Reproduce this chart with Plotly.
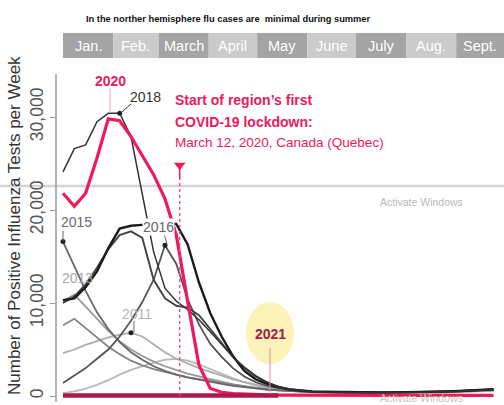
import plotly.graph_objects as go

# ---------------- data (weekly, week 0 = first week of January) ----------------
weeks = list(range(39))
s2011 = [4600, 5000, 5500, 5900, 6300, 6600, 6800, 6400, 5500, 4700, 4000, 3500, 3000, 2600, 2200, 1800, 1500, 1200, 950, 750,
         600, 500, 430, 380, 350, 330, 320, 310, 300, 300, 310, 320, 330, 350, 380, 410, 450, 500, 560]
s2012 = [7600, 8300, 7300, 6300, 5300, 4500, 3800, 3300, 2900, 2600, 2300, 2000, 1800, 1600, 1400, 1200, 1000, 850, 700, 600,
         520, 460, 420, 390, 370, 360, 350, 350, 350, 360, 370, 380, 400, 420, 450, 490, 530, 580, 640]
s2013 = [10200, 10900, 9600, 8300, 7000, 5900, 5000, 4300, 3700, 3200, 2800, 2400, 2100, 1800, 1500, 1250, 1050, 880, 740, 630,
         540, 480, 440, 410, 390, 380, 370, 370, 370, 380, 390, 400, 420, 440, 470, 510, 550, 600, 660]
s2014 = [300, 500, 800, 1200, 1700, 2300, 2800, 3200, 3600, 3900, 4000, 3800, 3400, 2900, 2400, 1900, 1500, 1150, 900, 720,
         600, 510, 450, 410, 380, 360, 350, 340, 340, 340, 350, 360, 380, 400, 430, 460, 500, 550, 610]
s2015 = [16600, 14000, 11300, 9000, 7200, 5800, 4700, 3900, 3200, 2700, 2300, 2000, 1750, 1500, 1300, 1100, 950, 820, 700, 600,
         520, 460, 420, 390, 370, 360, 350, 350, 350, 360, 370, 390, 410, 430, 460, 500, 540, 590, 650]
s2016 = [1400, 2200, 3000, 4000, 5000, 6400, 8100, 10100, 12500, 16200, 14200, 10400, 7700, 5600, 4200, 3000, 2100, 1500, 1100, 850,
         680, 560, 480, 430, 400, 380, 370, 360, 360, 370, 380, 400, 420, 450, 480, 520, 570, 630, 700]
s2017 = [10000, 10700, 12000, 13800, 15800, 17300, 17700, 17000, 12500, 10500, 9700, 9500, 8700, 7200, 5600, 4200, 3000, 2100, 1450, 1000,
         720, 560, 470, 420, 390, 370, 360, 360, 360, 370, 380, 400, 420, 450, 490, 530, 580, 640, 710]
s2018 = [24100, 26600, 27000, 29500, 30400, 30400, 27900, 21900, 15500, 11600, 10200, 9300, 8200, 6900, 5500, 4200, 3100, 2200, 1500, 1000,
         720, 560, 470, 420, 390, 370, 360, 350, 350, 360, 370, 390, 410, 440, 470, 510, 560, 620, 690]
s2019 = [10300, 10500, 11700, 13400, 15900, 18000, 18300, 18400, 18400, 18500, 18500, 16300, 12200, 8900, 6400, 4300, 2700, 1800, 1300, 950,
         700, 560, 490, 450, 420, 400, 390, 380, 380, 390, 400, 420, 440, 470, 500, 540, 590, 650, 720]
s2020 = [21800, 20400, 21800, 25600, 29800, 29600, 27900, 25800, 23800, 21200, 17300, 10200, 3300, 800, 400, 250, 180, 140, 120, 100,
         90, 80, 80, 70, 70, 60, 60, 60, 60, 60, 60, 60, 60, 60, 60, 60, 60, 60, 60]
s2021 = [60, 60, 60, 60, 60, 60, 60, 60, 60, 60, 60, 60, 60, 60, 60, 60, 60, 60, 60, 60]

months = ["Jan.", "Feb.", "March", "April", "May", "June", "July", "Aug.", "Sept."]
month_start_week = [0, 4.43, 8.43, 12.86, 17.14, 21.57, 25.86, 30.29, 34.71, 39.0]
lockdown_week = 10.3
y_ticks = [0, 10000, 20000, 30000]
y_ticktext = ["0", "10,000", "20,000", "30,000"]

# ---------------- figure ----------------
W, H, L = 504, 405, 56
SANS = "Liberation Sans, Arial, sans-serif"


def P(px):
    return (px - L) / (W - L)


def Q(py):
    return 1 - py / H


fig = go.Figure()

series = [
    (s2014, "#b8b8b8", 1.8),
    (s2011, "#adadad", 1.8),
    (s2013, "#999999", 1.8),
    (s2012, "#858585", 1.8),
    (s2015, "#686868", 1.8),
    (s2016, "#555555", 1.8),
    (s2017, "#444444", 1.9),
    (s2019, "#1c1c1c", 2.4),
    (s2018, "#333333", 1.5),
]
for vals, col, wd in series:
    fig.add_trace(go.Scatter(x=weeks, y=vals, mode="lines",
                             line=dict(color=col, width=wd), hoverinfo="skip"))

fig.add_trace(go.Scatter(x=weeks, y=s2020, mode="lines",
                         line=dict(color="#f0195a", width=3.2), hoverinfo="skip"))
fig.add_trace(go.Scatter(x=weeks[:len(s2021)], y=s2021, mode="lines",
                         line=dict(color="#b0174a", width=4.5), hoverinfo="skip"))

# dots on labelled seasons
fig.add_trace(go.Scatter(x=[5, 9, 0, 6], y=[s2018[5], s2016[9], s2015[0], s2011[6]], mode="markers",
                         marker=dict(color="#222222", size=5), hoverinfo="skip"))

# lockdown marker
fig.add_trace(go.Scatter(x=[lockdown_week, lockdown_week], y=[0, 23300], mode="lines",
                         line=dict(color="#f0497a", width=1.3, dash="dot"), hoverinfo="skip"))
fig.add_trace(go.Scatter(x=[lockdown_week, lockdown_week], y=[23300, 24800], mode="lines",
                         line=dict(color="#f0195a", width=1.5), hoverinfo="skip"))
fig.add_trace(go.Scatter(x=[lockdown_week], y=[24800], mode="markers",
                         marker=dict(symbol="triangle-down", size=10, color="#f0195a"), hoverinfo="skip"))

shapes = []
# month boxes
for i, m in enumerate(months):
    shapes.append(dict(type="rect", xref="x", yref="paper",
                       x0=month_start_week[i], x1=month_start_week[i + 1],
                       y0=Q(58), y1=Q(33), line=dict(width=0),
                       fillcolor="#a4a4a4" if i % 2 == 0 else "#cbcbcb", layer="above"))
# y axis line
shapes.append(dict(type="line", xref="paper", yref="paper", x0=0, x1=0, y0=Q(402), y1=Q(74),
                   line=dict(color="#9a9a9a", width=1.5)))
# screen artefact line
shapes.append(dict(type="line", xref="paper", yref="paper", x0=P(0), x1=P(504), y0=Q(186), y1=Q(186),
                   line=dict(color="#d4d4d4", width=2.5), layer="below"))
# 2021 highlight ellipse
shapes.append(dict(type="circle", xref="paper", yref="paper", x0=P(246), x1=P(294), y0=Q(364), y1=Q(302),
                   fillcolor="#fbf3b8", line=dict(width=0), layer="below"))
# leader lines
leaders = [((110, 89), (110, 113), "#f5a0bc", 1),
           ((131, 104), (122, 112), "#333333", 1),
           ((63, 231), (63, 241), "#666666", 1),
           ((134, 321), (134, 332), "#666666", 1),
           ((164, 234), (167, 244), "#666666", 1),
           ((270, 348), (270, 394), "#e58aa8", 1)]
for (x0, y0), (x1, y1), c, wd in leaders:
    shapes.append(dict(type="line", xref="paper", yref="paper", x0=P(x0), x1=P(x1), y0=Q(y0), y1=Q(y1),
                       line=dict(color=c, width=wd)))

annotations = []


def ann(text, px, py, size, color, bold=False, xanchor="center", family=SANS, angle=0, bg=None):
    d = dict(text=("<b>%s</b>" % text) if bold else text, x=P(px), y=Q(py), xref="paper", yref="paper",
             showarrow=False, xanchor=xanchor, yanchor="middle", textangle=angle,
             font=dict(size=size, color=color, family=family))
    if bg:
        d["bgcolor"] = bg
        d["borderpad"] = 0
    annotations.append(d)


ann("In the norther hemisphere flu cases are  minimal during summer", 228, 19, 9.3, "#111111", bold=True)
for i, m in enumerate(months):
    cx = 63 + (month_start_week[i] + min(month_start_week[i + 1], 38.9)) / 2 * 11.33
    ann(m, cx, 46, 14.5, "#ffffff")
ann("Number of Positive Influenza Tests per Week", 14, 226, 17, "#333333", angle=-90)
ann("Start of region\u2019s first", 173, 100, 14, "#ee1a5a", bold=True, xanchor="left")
ann("COVID-19 lockdown:", 173, 122, 14, "#ee1a5a", bold=True, xanchor="left")
ann("March 12, 2020, Canada (Quebec)", 173, 142, 13.5, "#ee1a5a", xanchor="left")
ann("2020", 110, 81, 14, "#ee1a5a", bold=True)
ann("2018", 145, 97, 14, "#333333")
ann("2015", 76, 222, 14, "#6a6a6a")
ann("2016", 158, 227, 14, "#666666", bg="#ffffff")
ann("2013", 77, 278, 14, "#a8a8a8")
ann("2011", 137, 314, 14, "#b4b4b4")
ann("2021", 270, 334, 14, "#a8184a", bold=True)
ann("Activate Windows", 421, 202, 10.5, "#b8b8b8")
ann("Activate Windows", 421, 398, 10.5, "#c4c4c4")

x_left = (L - 63) / 11.33
x_right = (W - 63) / 11.33
y_bottom = (396 - H) / 0.0093
y_top = 396 / 0.0093

fig.update_layout(
    width=W, height=H, margin=dict(l=L, r=0, t=0, b=0, autoexpand=False),
    paper_bgcolor="white", plot_bgcolor="white", showlegend=False,
    xaxis=dict(range=[x_left, x_right], visible=False, automargin=False),
    yaxis=dict(range=[y_bottom, y_top], tickvals=y_ticks, ticktext=y_ticktext, tickangle=-90,
               ticks="outside", ticklen=5, tickcolor="#9a9a9a", showgrid=False, zeroline=False,
               showline=False, automargin=False,
               tickfont=dict(size=17.5, color="#555555", family=SANS)),
    shapes=shapes, annotations=annotations,
)
fig.write_html("out.html", config={"displayModeBar": False},
               post_script="document.body.style.margin='0';document.body.style.overflow='hidden';")
